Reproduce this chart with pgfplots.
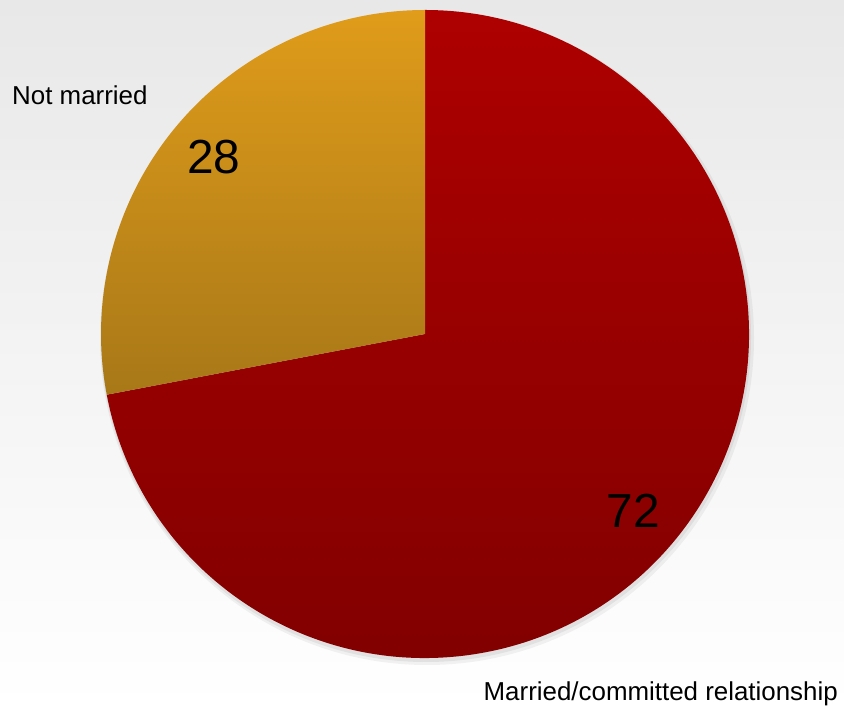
\documentclass[border=0pt]{standalone}
\usepackage{pgfplots}
\pgfplotsset{compat=1.18}
\usepackage{pgfplotstable}
\usepackage{fontspec}
\setmainfont{Liberation Sans}

\definecolor{bgtop}{HTML}{E8E8E8}
\definecolor{redtop}{HTML}{AE0000}
\definecolor{redbot}{HTML}{800000}
\definecolor{orgtop}{HTML}{E09C1A}
\definecolor{orgbot}{HTML}{A87818}

% share in percent
\pgfplotstableread{
label value
notmarried 28
married 72
}\piedata

\begin{document}
\begin{tikzpicture}
\pgfplotstablegetelem{0}{value}\of\piedata \let\vA\pgfplotsretval
\pgfplotstablegetelem{1}{value}\of\piedata \let\vB\pgfplotsretval
\pgfmathsetmacro\angA{90+360*\vA/(\vA+\vB)}
\begin{axis}[
    scale only axis,
    width=844bp, height=708bp,
    xmin=0, xmax=844, ymin=0, ymax=708,
    hide axis, clip=false,
]
% background
\shade[top color=bgtop, bottom color=white] (axis cs:0,0) rectangle (axis cs:844,708);
% soft shadow
\fill[black, opacity=0.05] (axis cs:427,370) circle[radius=327bp];
\fill[black, opacity=0.06] (axis cs:426,371) circle[radius=325bp];
% slices
\shade[top color=redtop, bottom color=redbot]
    (axis cs:425,374) -- ++(\angA:324bp)
    arc[start angle=\angA, end angle=450, radius=324bp] -- cycle;
\shade[top color=orgtop, bottom color=orgbot]
    (axis cs:425,374) -- ++(90:324bp)
    arc[start angle=90, end angle=\angA, radius=324bp] -- cycle;
% labels
\node[anchor=base west, inner sep=0pt, font=\fontsize{26}{30}\selectfont] at (axis cs:12,603) {Not married};
\node[anchor=base, inner sep=0pt, font=\fontsize{48}{56}\selectfont] at (axis cs:214,534) {\vA};
\node[anchor=base, inner sep=0pt, font=\fontsize{48}{56}\selectfont] at (axis cs:633,180) {\vB};
\node[anchor=base east, inner sep=0pt, font=\fontsize{26}{30}\selectfont] at (axis cs:838,8) {Married/committed relationship};
\end{axis}
\end{tikzpicture}
\end{document}
